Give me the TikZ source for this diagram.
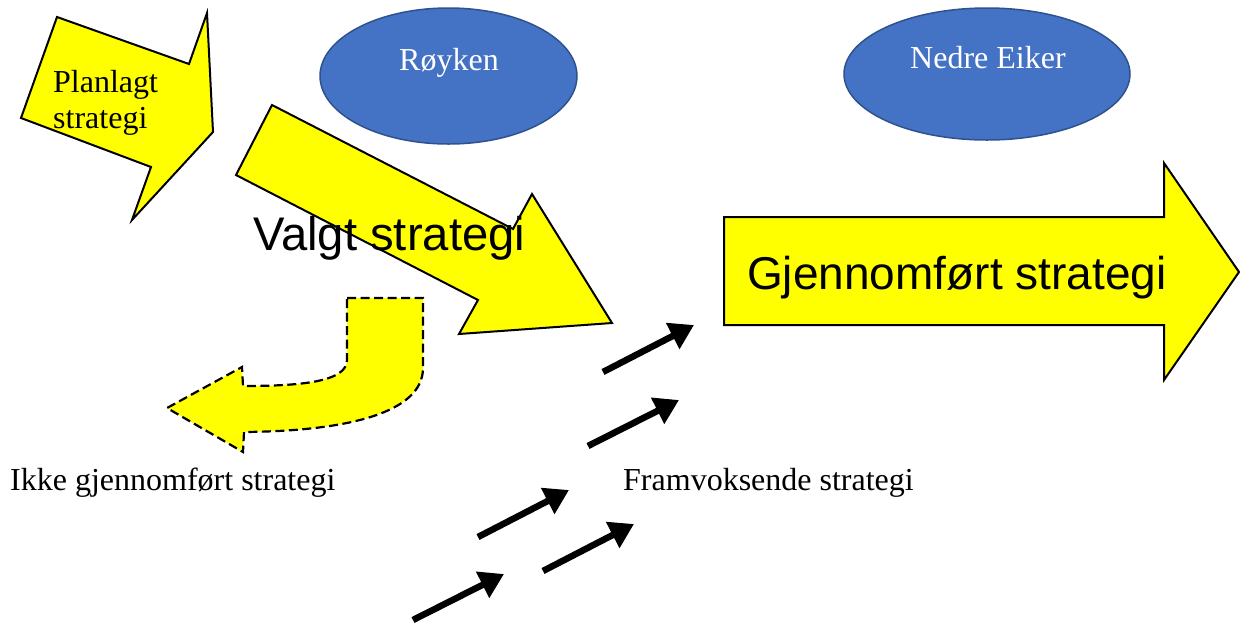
\documentclass[tikz,border=0pt]{standalone}
\usepackage{fontspec}
\setmainfont{Liberation Serif}
\newfontfamily\arialf{Liberation Sans}
\usetikzlibrary{arrows.meta}
\definecolor{ovalblue}{HTML}{4472C4}
\definecolor{ovaledge}{HTML}{2F528F}
\definecolor{arrowyellow}{HTML}{FFFF00}
\tikzset{
  yarrow/.style={fill=arrowyellow, draw=black, line width=2pt, line join=miter},
  dasharrow/.style={fill=arrowyellow, draw=black, line width=2.2pt, dash pattern=on 9pt off 4.5pt},
  oval/.style={fill=ovalblue, draw=ovaledge, line width=1.5pt},
  serif/.style={font=\fontsize{32}{36}\selectfont, inner sep=0pt, anchor=base west},
  ovaltext/.style={serif, text=white},
  bigtext/.style={font=\arialf\fontsize{46}{52}\selectfont, inner sep=0pt, anchor=base west},
  thinarrow/.style={line width=6.5pt, -{Triangle[length=24pt,width=28pt]}}
}
\begin{document}
\begin{tikzpicture}[x=1pt,y=-1pt]
\useasboundingbox (0,0) rectangle (1240,622);
% ellipses
\draw[oval] (448.5,76) ellipse [x radius=128.5, y radius=68];
\draw[oval] (987,74) ellipse [x radius=143, y radius=66];
\node[ovaltext] (royken) at (399,70) {Røyken};
\node[ovaltext] (nedre) at (910,68) {Nedre Eiker};
% planned strategy arrow
\draw[yarrow] (57,17) -- (189,64) -- (207,13) -- (213,132) -- (132,220) -- (151,167) -- (21,118) -- cycle;
\node[serif] (plan1) at (53,92) {Planlagt};
\node[serif] (plan2) at (53,128) {strategi};
% chosen strategy arrow
\draw[yarrow] (272,105) -- (513,229) -- (532,194) -- (612,323) -- (459,334) -- (478,300) -- (236,175) -- cycle;
\node[bigtext, font=\arialf\fontsize{47.2}{52}\selectfont] (valgt) at (253,250) {Valgt strategi};
% realized strategy arrow
\draw[yarrow] (724,217) -- (1164,217) -- (1164,163) -- (1239,272) -- (1164,380) -- (1164,325) -- (724,325) -- cycle;
\node[bigtext] (gjen) at (747,289) {Gjennomført strategi};
% unrealized strategy (dashed u-turn)
\draw[dasharrow] (347,298) -- (423,298) -- (423,368)
  .. controls (423,412) and (350,431) .. (244,432)
  -- (243,452) -- (167,408) -- (242,367) -- (243,386)
  .. controls (300,386) and (347,382) .. (347,360) -- cycle;
\node[serif] (ikke) at (10,490) {Ikke gjennomført strategi};
% emergent strategy
\node[serif] (fram) at (623,490) {Framvoksende strategi};
\coordinate (a1s) at (603,372); \coordinate (a1e) at (694,325);
\coordinate (a2s) at (588,446); \coordinate (a2e) at (679,400);
\coordinate (a3s) at (478,537); \coordinate (a3e) at (569,490);
\coordinate (a4s) at (543,571); \coordinate (a4e) at (634,524);
\coordinate (a5s) at (413,620); \coordinate (a5e) at (504,574);
\draw[thinarrow] (a1s) -- (a1e);
\draw[thinarrow] (a2s) -- (a2e);
\draw[thinarrow] (a3s) -- (a3e);
\draw[thinarrow] (a4s) -- (a4e);
\draw[thinarrow] (a5s) -- (a5e);
\end{tikzpicture}
\end{document}
